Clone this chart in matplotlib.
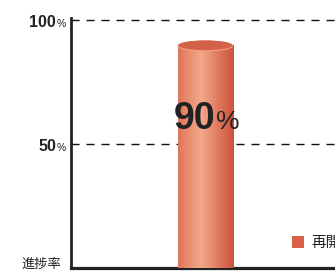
import numpy as np
import matplotlib
matplotlib.use("Agg")
import matplotlib.pyplot as plt
from matplotlib.colors import LinearSegmentedColormap
from matplotlib.patches import Ellipse, Rectangle
from matplotlib.transforms import offset_copy, blended_transform_factory

categories = ["再開発"]
values = [90]
yticks = [50, 100]
ylabel = "進捗率"

plt.rcParams['font.family'] = ['Liberation Sans', 'Noto Sans CJK JP', 'DejaVu Sans']

fig = plt.figure(figsize=(3.35, 2.71), dpi=100)
ax = fig.add_axes([71/335, 3/271, 264/335, 250/271])
ax.set_xlim(0, 1)
ax.set_ylim(0, 100.8)

bar_w = 0.21
xc = 0.509
bars = ax.bar([xc], values, width=bar_w, color='#d9694f', zorder=2)

# gradient body
cmap = LinearSegmentedColormap.from_list('cyl', [
    (0.0, '#de7459'), (0.15, '#e8886c'), (0.42, '#f2a88a'),
    (0.7, '#e27d62'), (1.0, '#c9523c')])
grad = np.linspace(0, 1, 256).reshape(1, -1)
for b, v in zip(bars, values):
    im = ax.imshow(grad, cmap=cmap, aspect='auto',
                   extent=(b.get_x(), b.get_x() + b.get_width(), 0, v),
                   zorder=3)
    im.set_clip_path(b)
    e_h = 4.4
    cx = b.get_x() + b.get_width()/2
    rim = Ellipse((cx, v - 0.5), b.get_width(), e_h,
                  facecolor='#f0a082', edgecolor='none', zorder=4)
    ax.add_patch(rim)
    top = Ellipse((cx, v - 0.2), b.get_width()*0.985, e_h*0.9,
                  facecolor='#d3614a', edgecolor='none', zorder=5)
    ax.add_patch(top)
    ax.text(cx + 0.036, v - 34, "%d" % v, ha='right', va='baseline',
            fontsize=27, fontweight='bold', color='#222222', zorder=6)
    ax.text(cx + 0.040, v - 34, "%", ha='left', va='baseline',
            fontsize=19, color='#222222', zorder=6)

# gridlines
for t in yticks:
    ax.axhline(t, color='#111111', lw=1.0, ls=(0, (5.8, 5)), zorder=1)

for s in ['top', 'right']:
    ax.spines[s].set_visible(False)
ax.spines['left'].set_linewidth(2.0)
ax.spines['left'].set_color('#222222')
ax.spines['bottom'].set_linewidth(2.3)
ax.spines['bottom'].set_color('#222222')
ax.set_xticks([])
ax.set_yticks([])

# tick labels
tr = blended_transform_factory(ax.transAxes, ax.transData)
for t in yticks:
    tp = offset_copy(tr, fig=fig, x=-5, y=-7, units='dots')
    ax.text(0, t, "%", transform=tp, ha='right', va='baseline', fontsize=7.5,
            color='#222222')
    tn = offset_copy(tr, fig=fig, x=-15, y=-7, units='dots')
    ax.text(0, t, "%d" % t, transform=tn, ha='right', va='baseline', fontsize=11.5,
            fontweight='bold', color='#222222')

fig.text(22/335, 1 - 268/271, ylabel, ha='left', va='baseline', fontsize=9.5,
         family=['Noto Sans CJK JP', 'DejaVu Sans'], color='#222222')

# legend
fig.patches.append(Rectangle((292/335, 1 - 248/271), 12/335, 12/271,
                             transform=fig.transFigure, facecolor='#d9614a',
                             edgecolor='none', figure=fig))
fig.text(311/335, 1 - 247/271, categories[0], ha='left', va='baseline', fontsize=10.5,
         family=['Noto Sans CJK JP', 'DejaVu Sans'], color='#222222')

fig.savefig("out.png", dpi=100)
